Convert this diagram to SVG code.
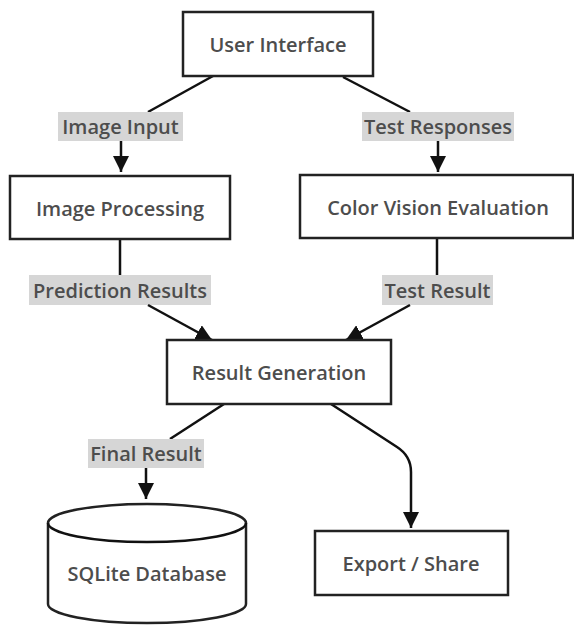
<svg xmlns="http://www.w3.org/2000/svg" width="574" height="627" viewBox="0 0 574 627">
<defs>
<style>
.box{fill:#fff;stroke:#222;stroke-width:2.5}
.t{font-family:"Open Sans","Noto Sans",sans-serif;font-size:20px;font-weight:600;fill:#4d4d4d;text-anchor:middle;dominant-baseline:central}
.lbg{fill:#d6d6d6}
.ln{fill:none;stroke:#111;stroke-width:2.5}
</style>
<marker id="ah" markerUnits="userSpaceOnUse" markerWidth="20" markerHeight="16" refX="16" refY="8" orient="auto">
<path d="M0,0 L16,8 L0,16 Z" fill="#111"/>
</marker>
</defs>
<rect width="574" height="627" fill="#fff"/>
<g id="connectors">
<path class="ln" d="M213,76 L148,112"/>
<rect class="lbg" x="58" y="112" width="125" height="29"/>
<text class="t" x="120.5" y="126.5">Image Input</text>
<path class="ln" d="M121,141 L121,172" marker-end="url(#ah)"/>
<path class="ln" d="M343,77 L410,112"/>
<rect class="lbg" x="362" y="112" width="152" height="29"/>
<text class="t" x="438" y="126.5">Test Responses</text>
<path class="ln" d="M438,141 L438,172" marker-end="url(#ah)"/>
<path class="ln" d="M120,239 L120,275"/>
<rect class="lbg" x="29" y="275" width="182" height="30"/>
<text class="t" x="120" y="290">Prediction Results</text>
<path class="ln" d="M148,305 L212,340" marker-end="url(#ah)"/>
<path class="ln" d="M437,238 L437,275"/>
<rect class="lbg" x="382" y="275" width="111" height="30"/>
<text class="t" x="437.5" y="290">Test Result</text>
<path class="ln" d="M410,305 L346,340" marker-end="url(#ah)"/>
<path class="ln" d="M224,404 L170,439"/>
<rect class="lbg" x="88" y="439" width="116" height="29"/>
<text class="t" x="146" y="453.5">Final Result</text>
<path class="ln" d="M146,468 L146,499" marker-end="url(#ah)"/>
<path class="ln" d="M331,404 L397,447 Q411,456 411,472 L411,528" marker-end="url(#ah)"/>
</g>
<g id="user-interface">
<rect class="box" x="183" y="12" width="190" height="64"/>
<text class="t" x="278" y="44">User Interface</text>
</g>
<g id="image-processing">
<rect class="box" x="10" y="176" width="220" height="63"/>
<text class="t" x="120" y="208">Image Processing</text>
</g>
<g id="color-vision-evaluation">
<rect class="box" x="300" y="175" width="273" height="63"/>
<text class="t" x="438" y="207">Color Vision Evaluation</text>
</g>
<g id="result-generation">
<rect class="box" x="167" y="340" width="224" height="64"/>
<text class="t" x="279" y="372">Result Generation</text>
</g>
<g id="sqlite-database">
<path class="box" d="M48,523 A99,19 0 0,1 246,523 L246,604 A99,19 0 0,1 48,604 Z"/>
<path class="ln" d="M48,523 A99,19 0 0,0 246,523"/>
<text class="t" x="147" y="573">SQLite Database</text>
</g>
<g id="export-share">
<rect class="box" x="315" y="531" width="193" height="64"/>
<text class="t" x="411" y="563">Export / Share</text>
</g>
</svg>
